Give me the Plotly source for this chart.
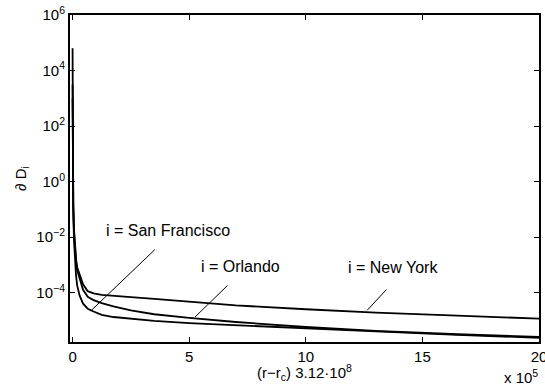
import numpy as np
import plotly.graph_objects as go

# x in units of 1e5
x_vals = [0, 0.01, 0.03, 0.06, 0.1, 0.15, 0.2, 0.3, 0.45, 0.65, 0.9, 1.25, 1.75,
          2.5, 3.5, 5, 7, 10, 13, 16.5, 20]
# log10 of dD_i
sf_log10 = [4.8, 1.0, -1.0, -2.1, -2.8, -3.4, -3.75, -4.1, -4.4, -4.58, -4.68, -4.8,
            -4.88, -4.95, -5.02, -5.1, -5.18, -5.3, -5.4, -5.52, -5.63]
orl_log10 = [3.5, 0.5, -0.8, -1.8, -2.4, -2.9, -3.2, -3.5, -3.9, -4.15, -4.27, -4.38,
             -4.5, -4.64, -4.78, -4.91, -5.06, -5.24, -5.38, -5.5, -5.6]
ny_log10 = [3.0, 0.2, -0.9, -1.7, -2.3, -2.8, -3.1, -3.35, -3.7, -3.95, -4.03, -4.08,
            -4.12, -4.16, -4.23, -4.34, -4.46, -4.6, -4.72, -4.83, -4.94]

series_names = ["i = San Francisco", "i = Orlando", "i = New York"]
series_logs = [sf_log10, orl_log10, ny_log10]
# label text centre (x, log10 y) and pointer line (tip, tail)
label_pos = [(4.11, -1.78), (7.18, -3.05), (13.73, -3.10)]
pointer_tip = [(0.78, -4.66), (5.25, -4.88), (12.63, -4.64)]
pointer_tail = [(3.53, -2.45), (6.65, -3.74), (13.46, -3.89)]

x_ticks = [0, 5, 10, 15, 20]
y_tick_exp = [-4, -2, 0, 2, 4, 6]

fig = go.Figure()
for name, lg in zip(series_names, series_logs):
    fig.add_trace(go.Scatter(x=x_vals, y=10 ** np.array(lg, dtype=float), mode="lines",
                             line=dict(color="black", width=1.8), name=name,
                             showlegend=False))

for tip, tail in zip(pointer_tip, pointer_tail):
    fig.add_trace(go.Scatter(x=[tip[0], tail[0]], y=[10 ** tip[1], 10 ** tail[1]],
                             mode="lines", line=dict(color="black", width=1),
                             showlegend=False, hoverinfo="skip"))

for name, pos in zip(series_names, label_pos):
    fig.add_annotation(x=pos[0], y=pos[1], xref="x", yref="y", text=name,
                       showarrow=False, font=dict(size=16, color="black"))

def sup(e):
    s = str(e).replace("-", "\u2212")
    return "10<sup>" + s + "</sup>"

# x-axis title (placed close under tick labels as in the reference)
fig.add_annotation(x=0.5, y=0, xref="paper", yref="paper", xanchor="center",
                   yanchor="top", yshift=-18,
                   text="(r\u2212r<sub>c</sub>) 3.12\u00b710<sup>8</sup>",
                   showarrow=False, font=dict(size=15, color="black"))
fig.add_annotation(x=1.0, y=0, xref="paper", yref="paper", xanchor="right",
                   yanchor="top", yshift=-23, xshift=1,
                   text="x 10<sup>5</sup>", showarrow=False,
                   font=dict(size=15, color="black"))

fig.update_layout(
    width=545, height=387,
    margin=dict(l=70, r=6, t=15, b=45, autoexpand=False),
    paper_bgcolor="white", plot_bgcolor="white",
    font=dict(family="Liberation Sans, Arial, sans-serif", size=15, color="black"),
    xaxis=dict(range=[-0.11, 20], tickvals=x_ticks, ticktext=[str(t) for t in x_ticks],
               ticks="inside", ticklen=5, tickwidth=1, tickcolor="black",
               ticklabeloverflow="allow", automargin=False,
               showline=True, linecolor="black", linewidth=2, mirror="ticks",
               showgrid=False, zeroline=False),
    yaxis=dict(type="log", range=[-5.78, 6],
               tickvals=[10.0 ** e for e in y_tick_exp],
               ticktext=[sup(e) for e in y_tick_exp],
               ticks="inside", ticklen=5, tickwidth=1, tickcolor="black",
               showline=True, linecolor="black", linewidth=2, mirror="ticks",
               showgrid=False, zeroline=False, automargin=False,
               title=dict(text="\u2202 D<sub>i</sub>", standoff=6, font=dict(size=15))),
)

fig.write_html("out.html")
